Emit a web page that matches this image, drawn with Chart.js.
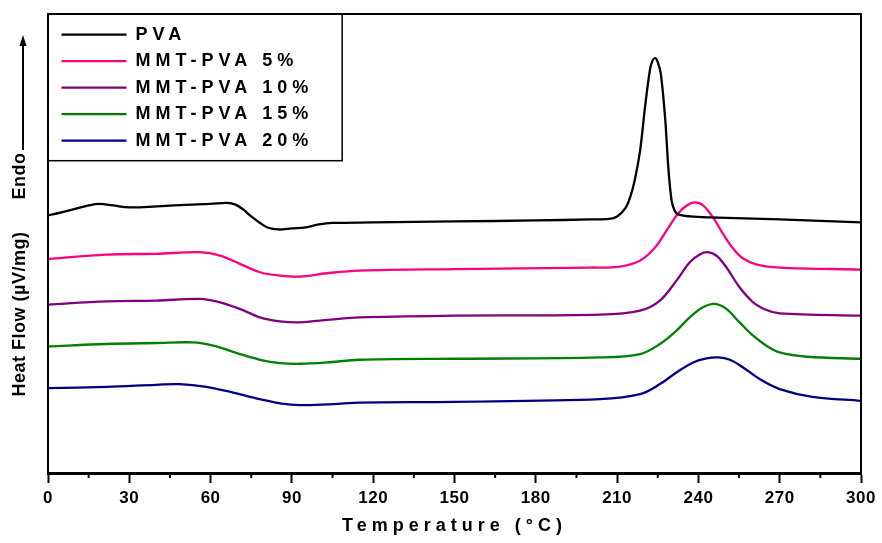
<!DOCTYPE html>
<html>
<head>
<meta charset="utf-8">
<script src="https://cdn.jsdelivr.net/npm/chart.js@4/dist/chart.umd.min.js"></script>
<style>
  html, body { margin: 0; padding: 0; background: #fff; }
</style>
</head>
<body>
<canvas id="chart" width="882" height="543"></canvas>
<script>
// DSC curves, heat flow in arbitrary offset units (curves are stacked)
const pvaTemp = [0, 5, 10, 15, 19, 24, 30, 40, 50, 60, 66, 69, 72, 75, 78, 81, 85, 90, 95, 100, 105, 120, 150, 180, 200, 207, 210, 213, 214.8, 216.5, 218.5, 220.3, 222.1, 223, 224.1, 225, 226.1, 227.7, 228.9, 230.1, 231.2, 232.5, 237, 244, 270, 300]
const pvaHeat = [257, 260, 263.5, 267, 268.5, 267, 265, 266, 267.5, 268.5, 269.5, 268, 263, 256, 250, 245, 243, 244, 245, 248, 249.5, 250, 251, 252, 253, 253.5, 256, 264, 275, 292, 322, 365, 402, 411, 414, 410, 399, 355, 305, 272, 262, 258, 256, 255, 253, 250]

const mmt5Temp = [0, 21.6, 40, 56, 63.5, 70.8, 78.2, 85.6, 93, 102.8, 115, 150, 200, 211, 218.5, 224, 228.3, 232.5, 235.7, 238.7, 241.7, 245.4, 249, 252.8, 256.5, 261.6, 270, 300]
const mmt5Heat = [213.5, 218, 218.7, 220.3, 217, 208.7, 200.3, 197, 196, 199.3, 202, 203.5, 205, 206, 212, 225, 242, 259, 267, 270, 267, 255, 239, 224, 214, 208, 205, 203]

const mmt10Temp = [0, 21.6, 40, 56, 63.5, 70.8, 78.2, 85.6, 93, 102.8, 115, 150, 203.7, 218.5, 225.8, 231.9, 236.8, 240.5, 243.2, 246.6, 250.3, 255.2, 260.2, 265.1, 270, 300]
const mmt10Heat = [168, 171.3, 172, 173.7, 170.3, 163.7, 155.3, 151.3, 150.3, 152.7, 155.3, 157, 158, 162, 172, 192, 210.3, 218, 220.3, 217, 205.3, 185.3, 170.3, 162.7, 159.3, 157]

const mmt15Temp = [0, 21.6, 40, 53.6, 61, 70.8, 78.2, 85.6, 93, 102.8, 115, 150, 203.7, 218.5, 225.8, 231.9, 236.8, 241.7, 246, 250.3, 255.2, 260.2, 265.1, 270, 280, 300]
const mmt15Heat = [126.3, 128.7, 129.7, 130.3, 127, 118.7, 113, 109.7, 109, 110.3, 113, 114, 115.3, 118.7, 128.7, 142, 155.3, 165.3, 168.7, 163.7, 150.3, 137, 127, 120.3, 116, 114]

const mmt20Temp = [0, 21.6, 40, 48.6, 58.4, 68.3, 78.2, 88, 95.4, 105.3, 115, 150, 203.7, 218.5, 225.8, 231.9, 238.1, 243, 247.3, 251.6, 256.5, 262.6, 270, 282, 300]
const mmt20Heat = [84.7, 86, 88, 88.7, 86, 80.3, 73.7, 68.7, 67.7, 68.7, 70.3, 71, 73.7, 78.7, 88.7, 100.3, 110.3, 114.3, 115.3, 113, 105.3, 93.7, 83.7, 76, 72]

const seriesNames = ['PVA', 'MMT-PVA 5%', 'MMT-PVA 10%', 'MMT-PVA 15%', 'MMT-PVA 20%']
const seriesColors = ['#000000', '#ff0080', '#800080', '#008000', '#000080']
const xTicks = [0, 30, 60, 90, 120, 150, 180, 210, 240, 270, 300]

const FONT = "'Liberation Sans', Arial, sans-serif"
const LEGEND_SIZE = 18
const LEGEND_PAD = 8.5
const LEGEND_SHIFT = 5
const LINE_W = 65
const WIDE = 5

function pairs(xs, ys) {
  return xs.map((x, i) => ({ x: x, y: ys[i] }))
}

const allSeries = [
  pairs(pvaTemp, pvaHeat),
  pairs(mmt5Temp, mmt5Heat),
  pairs(mmt10Temp, mmt10Heat),
  pairs(mmt15Temp, mmt15Heat),
  pairs(mmt20Temp, mmt20Heat)
]

// letter spacing: wide for legend + axis title, tight for tick labels (drawn after datasets)
const spacing = {
  id: 'spacing',
  beforeLayout: (chart) => { chart.ctx.letterSpacing = WIDE + 'px' },
  afterLayout: (chart) => {
    // nudge the legend a little right inside the plot
    const lg = chart.legend
    lg.left += LEGEND_SHIFT
    lg.right += LEGEND_SHIFT
    if (lg.adjustHitBoxes) lg.adjustHitBoxes()
  },
  beforeDraw: (chart) => { chart.ctx.letterSpacing = WIDE + 'px' },
  afterDatasetsDraw: (chart) => { chart.ctx.letterSpacing = '0.5px' }
}

// frame, minor ticks, legend border, y title and Endo arrow
const decorations = {
  id: 'decorations',
  afterDraw: (chart) => {
    const ctx = chart.ctx
    const a = chart.chartArea
    const xs = chart.scales.x
    ctx.save()
    ctx.strokeStyle = '#000'
    ctx.lineWidth = 2
    ctx.beginPath()
    ctx.moveTo(a.left, a.bottom)
    ctx.lineTo(a.left, a.top)
    ctx.lineTo(a.right, a.top)
    ctx.lineTo(a.right, a.bottom)
    ctx.stroke()

    // minor ticks
    ctx.beginPath()
    for (let v = 15; v < 300; v += 30) {
      const px = xs.getPixelForValue(v)
      ctx.moveTo(px, a.bottom)
      ctx.lineTo(px, a.bottom + 5)
    }
    ctx.stroke()

    // legend border, sized from the widest label
    const boxes = chart.legend.legendHitBoxes
    ctx.font = 'bold ' + LEGEND_SIZE + 'px ' + FONT
    ctx.letterSpacing = '0px'
    let textW = 0
    seriesNames.forEach(n => { textW = Math.max(textW, ctx.measureText(n).width + WIDE * (n.length - 1)) })
    const textX = a.left + LEGEND_SHIFT + LEGEND_PAD + LINE_W + LEGEND_SIZE / 2
    const last = boxes[boxes.length - 1]
    ctx.lineWidth = 1.5
    ctx.strokeRect(a.left, a.top, textX + textW + 34 - a.left, last.top + last.height + 11 - a.top)

    // y title
    ctx.fillStyle = '#000'
    ctx.font = 'bold 18px ' + FONT
    ctx.textAlign = 'center'
    ctx.textBaseline = 'middle'
    ctx.translate(20, 0)
    ctx.rotate(-Math.PI / 2)
    ctx.letterSpacing = '0.5px'
    ctx.fillText('Heat Flow (\u00b5V/mg)', -314, 0)
    ctx.fillText('Endo', -176, 0)
    ctx.restore()

    // Endo arrow
    ctx.save()
    ctx.strokeStyle = '#000'
    ctx.fillStyle = '#000'
    ctx.lineWidth = 2
    ctx.beginPath()
    ctx.moveTo(23, 150)
    ctx.lineTo(23, 44)
    ctx.stroke()
    ctx.beginPath()
    ctx.moveTo(23, 35)
    ctx.lineTo(19.5, 46)
    ctx.lineTo(26.5, 46)
    ctx.closePath()
    ctx.fill()
    ctx.restore()
  }
}

const chart = new Chart(document.getElementById('chart'), {
  type: 'line',
  data: {
    datasets: allSeries.map((pts, i) => ({
      label: seriesNames[i],
      data: pts,
      borderColor: seriesColors[i],
      backgroundColor: seriesColors[i],
      borderWidth: 2.3,
      pointRadius: 0,
      tension: 0.35,
      fill: false
    }))
  },
  options: {
    responsive: false,
    devicePixelRatio: 1,
    animation: false,
    layout: { padding: { left: 48, right: 21, top: 14, bottom: 6 } },
    plugins: {
      tooltip: { enabled: false },
      legend: {
        position: 'chartArea',
        align: 'start',
        title: { display: true, text: '', font: { size: 1 }, padding: { top: 16, bottom: 0 } },
        labels: {
          usePointStyle: true,
          pointStyle: 'line',
          pointStyleWidth: LINE_W,
          padding: LEGEND_PAD,
          color: '#000',
          font: { family: FONT, size: LEGEND_SIZE, weight: 'bold' }
        }
      }
    },
    scales: {
      x: {
        type: 'linear',
        min: 0,
        max: 300,
        afterBuildTicks: (scale) => { scale.ticks = xTicks.map(v => ({ value: v })) },
        afterFit: (scale) => { scale.paddingLeft = 0; scale.paddingRight = 0 },
        grid: { drawOnChartArea: false, drawTicks: true, tickLength: 10, tickWidth: 2, tickColor: '#000' },
        border: { display: true, color: '#000', width: 3 },
        ticks: {
          z: 1,
          padding: 5,
          color: '#000',
          maxRotation: 0,
          font: { family: FONT, size: 17, weight: 'bold' }
        },
        title: {
          display: true,
          text: 'Temperature (\u00b0C)',
          color: '#000',
          padding: { top: 2, bottom: 0 },
          font: { family: FONT, size: 18, weight: 'bold' }
        }
      },
      y: {
        display: false,
        min: 0,
        max: 458
      }
    }
  },
  plugins: [spacing, decorations]
})
</script>
</body>
</html>
